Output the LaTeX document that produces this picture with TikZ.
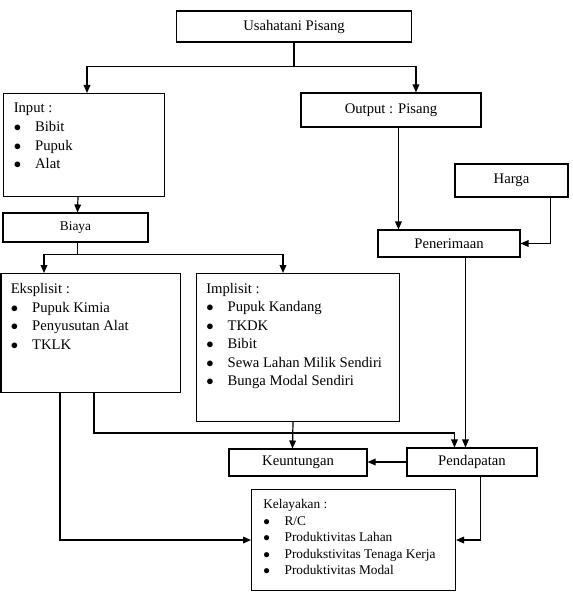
\documentclass[tikz,border=0pt]{standalone}
\usepackage{fontspec}
\setmainfont{Liberation Serif}
\usetikzlibrary{positioning,calc,arrows.meta}
\tikzset{
    box/.style={draw, line width=0.8pt, inner sep=0pt, font=\fontsize{11}{13}\selectfont},
    listbox/.style={draw, line width=0.8pt, inner sep=0pt, anchor=north west},
    listtext/.style={anchor=north west, inner sep=0pt, align=left, font=\fontsize{11}{14}\selectfont},
    arr/.style={-{Triangle[length=6pt,width=5pt]}, line width=0.9pt},
    link/.style={line width=0.9pt}
}
\newcommand{\bul}{\makebox[16pt][l]{$\bullet$}}

\begin{document}
\begin{tikzpicture}[x=0.75pt,y=-0.75pt]
    \useasboundingbox (0,0) rectangle (573,592);

    % Top
    \node[box, minimum width=176.25pt, minimum height=23.25pt] (usaha) at (294,26.5) {Usahatani Pisang};

    % Input / output
    \node[listbox, minimum width=120.75pt, minimum height=77.25pt] (input) at (3,93) {};
    \node[listtext] (inputtxt) at ($(input.north west)+(10.5,10)$) {Input :\\ \bul Bibit\\ \bul Pupuk\\ \bul Alat};
    \node[box, minimum width=135pt, minimum height=25.5pt] (output) at (391,110) {Output : Pisang};
    \node[box, minimum width=84.75pt, minimum height=24.75pt] (harga) at (511.5,180.5) {Harga};

    % Biaya
    \node[box, minimum width=108.75pt, minimum height=21.75pt, font=\fontsize{10}{12}\selectfont] (biaya) at (75.5,227.5) {Biaya};
    \node[box, minimum width=106.5pt, minimum height=20.25pt] (penerimaan) at (449,243.5) {Penerimaan};

    % Eksplisit / Implisit
    \node[listbox, minimum width=134.6pt, minimum height=89.25pt] (eksplisit) at (0.5,273) {};
    \node[listtext] (eksplisittxt) at ($(eksplisit.north west)+(10,10)$) {Eksplisit :\\ \bul Pupuk Kimia\\ \bul Penyusutan Alat\\ \bul TKLK};
    \node[listbox, minimum width=152.6pt, minimum height=111pt] (implisit) at (195.5,273) {};
    \node[listtext, font=\fontsize{11}{13.8}\selectfont] (implisittxt) at ($(implisit.north west)+(10.5,10)$) {Implisit :\\ \bul Pupuk Kandang\\ \bul TKDK\\ \bul Bibit\\ \bul Sewa Lahan Milik Sendiri\\ \bul Bunga Modal Sendiri};

    % Hasil
    \node[box, minimum width=103.5pt, minimum height=20.25pt] (keuntungan) at (298,462.5) {Keuntungan};
    \node[box, minimum width=97.5pt, minimum height=21pt] (pendapatan) at (472,462) {Pendapatan};
    \node[listbox, minimum width=153pt, minimum height=75.75pt] (kelayakan) at (251,489) {};
    \node[listtext, font=\fontsize{10}{12.4}\selectfont] (kelayakantxt) at ($(kelayakan.north west)+(12,10)$) {Kelayakan :\\ \bul R/C\\ \bul Produktivitas Lahan\\ \bul Produkstivitas Tenaga Kerja\\ \bul Produktivitas Modal};

    % Connectors
    \coordinate (usplit) at ($(usaha.south)+(0,24)$);
    \draw[link] (usaha.south) -- (usplit);
    \draw[arr] (usplit) -| ($(input.north west)+(84,0)$);
    \draw[arr] (usplit) -| ($(output.north west)+(115.5,0)$);
    \draw[arr] ($(input.south west)+(75,0)$) -- ($(biaya.north west)+(75,0)$);

    \coordinate (bsplit) at ($(biaya.south west)+(75,12)$);
    \draw[link] ($(biaya.south west)+(75,0)$) -- (bsplit);
    \draw[arr] (bsplit) -| ($(eksplisit.north west)+(43.5,0)$);
    \draw[arr] (bsplit) -| ($(implisit.north west)+(87.5,0)$);

    \draw[arr] ($(output.south west)+(98,0)$) -- ($(penerimaan.north west)+(21,0)$);
    \draw[arr] ($(harga.south west)+(96,0)$) |- (penerimaan.east);
    \draw[arr] ($(penerimaan.south west)+(88,0)$) -- ($(pendapatan.north west)+(59,0)$);

    \draw[arr] ($(eksplisit.south west)+(93.5,0)$) -- ++(0,40) -| ($(pendapatan.north west)+(48,0)$);
    \draw[arr] ($(implisit.south west)+(97.5,0)$) -- ($(keuntungan.north west)+(64,0)$);
    \draw[arr] (pendapatan.west) -- (pendapatan.west -| keuntungan.east);

    \draw[arr] ($(eksplisit.south west)+(59.5,0)$) |- (kelayakan.west);
    \draw[arr] ($(pendapatan.south west)+(74,0)$) |- (kelayakan.east);
\end{tikzpicture}
\end{document}
